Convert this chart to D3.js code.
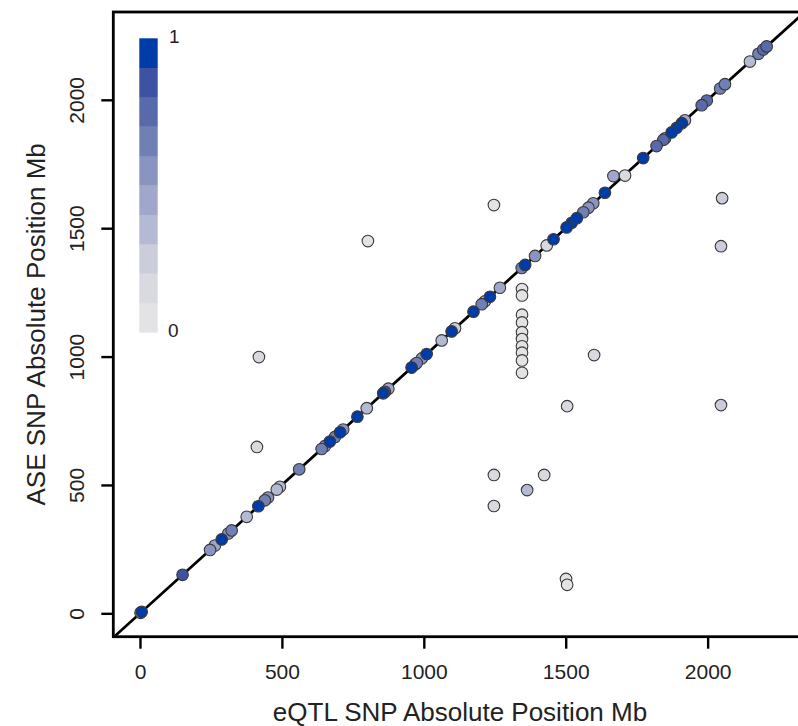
<!DOCTYPE html>
<html>
<head>
<meta charset="utf-8">
<script src="https://cdn.jsdelivr.net/npm/d3@7"></script>
<style>
  html, body { margin: 0; padding: 0; background: #fff; }
  svg { display: block; }
  text { font-family: "Liberation Sans", Arial, Helvetica, sans-serif; fill: #222; }
</style>
</head>
<body>
<svg id="chart" width="798" height="726"></svg>
<script>
// eQTL SNP position vs ASE SNP position (Mb), coloured by proportion shared
const eqtlMb = [
  2, 6, 150, 247, 264, 288, 311, 323, 376, 417, 440, 451, 482, 493, 561,
  640, 652, 669, 687, 705, 716, 766, 799, 857, 863, 875, 957, 970, 975, 993,
  1010, 1063, 1098, 1110, 1175, 1204, 1215, 1233, 1268, 1345, 1357, 1392, 1433,
  1457, 1503, 1521, 1539, 1562, 1580, 1597, 1638, 1709, 1773, 1820, 1844, 1850,
  1873, 1891, 1909, 1920, 1979, 1997, 2044, 2061, 2149, 2179, 2196, 2208,
  // off-diagonal pairs
  1247, 803, 2051, 2047, 2047, 1505, 1600, 419, 412, 1247, 1247, 1364, 1424,
  1501, 1505, 1668,
  1346, 1346, 1346, 1346, 1346, 1346, 1346, 1346, 1346, 1346
];
const aseMb = [
  2, 6, 150, 247, 264, 288, 311, 323, 376, 417, 440, 451, 482, 493, 561,
  640, 652, 669, 687, 705, 716, 766, 799, 857, 863, 875, 957, 970, 975, 993,
  1010, 1063, 1098, 1110, 1175, 1204, 1215, 1233, 1268, 1345, 1357, 1392, 1433,
  1457, 1503, 1521, 1539, 1562, 1580, 1597, 1638, 1705, 1773, 1820, 1844, 1850,
  1873, 1891, 1909, 1920, 1979, 1997, 2044, 2061, 2149, 2179, 2196, 2208,
  1590, 1450, 1617, 1430, 811, 807, 1006, 998, 648, 539, 418, 480, 539,
  134, 111, 1703,
  1263, 1238, 1163, 1133, 1095, 1068, 1040, 1015, 985, 937
];
const shared = [
  0.5, 1.0, 0.8, 0.5, 0.4, 1.0, 0.5, 0.6, 0.35, 1.0, 0.6, 0.55, 0.35, 0.3, 0.6,
  0.6, 0.5, 1.0, 0.6, 1.0, 0.5, 1.0, 0.35, 1.0, 0.85, 0.4, 1.0, 0.5, 0.6, 0.55,
  1.0, 0.35, 1.0, 0.2, 1.0, 0.6, 0.3, 1.0, 0.45, 0.6, 1.0, 0.5, 0.15,
  1.0, 1.0, 0.9, 1.0, 0.6, 0.55, 0.5, 1.0, 0.1, 1.0, 0.75, 0.7, 0.55,
  1.0, 0.95, 0.9, 0.45, 0.75, 0.7, 0.6, 0.6, 0.35, 0.65, 0.7, 0.7,
  0.05, 0.05, 0.25, 0.2, 0.2, 0.1, 0.1, 0.1, 0.15, 0.1, 0.15, 0.3, 0.1,
  0.05, 0.05, 0.45,
  0.05, 0.05, 0.05, 0.05, 0.05, 0.05, 0.05, 0.05, 0.05, 0.05
];

// colour key, from 0 (bottom) to 1 (top)
const keyColors = [
  "#e3e3e5", "#d9dae0", "#cbcdda", "#b5bad4", "#a0a7ca",
  "#8a94c0", "#7080b4", "#586aaa", "#3e52a2", "#003ca8"
];
const keyLabels = ["0", "1"];
const tickValues = [0, 500, 1000, 1500, 2000];
const xTitle = "eQTL SNP Absolute Position Mb";
const yTitle = "ASE SNP Absolute Position Mb";

const svg = d3.select("#chart");
const box = { left: 113.3, right: 806.7, top: 12, bottom: 636.7 };

const x = d3.scaleLinear().domain([-94, 2349]).range([box.left, box.right]);
const y = d3.scaleLinear().domain([-91, 2342]).range([box.bottom, box.top]);
const color = d3.scaleQuantize().domain([0, 1]).range(keyColors);

svg.append("clipPath").attr("id", "plotclip")
  .append("rect")
  .attr("x", box.left).attr("y", box.top)
  .attr("width", box.right - box.left).attr("height", box.bottom - box.top);

// identity line
svg.append("line")
  .attr("clip-path", "url(#plotclip)")
  .attr("x1", x(-200)).attr("y1", y(-200))
  .attr("x2", x(2500)).attr("y2", y(2500))
  .attr("stroke", "#000").attr("stroke-width", 2.7);

// points, lighter first so stronger sharing sits on top
const pts = eqtlMb.map((e, i) => ({ e, a: aseMb[i], s: shared[i] }))
  .sort((p, q) => p.s - q.s);

svg.append("g").attr("clip-path", "url(#plotclip)")
  .selectAll("circle").data(pts).join("circle")
  .attr("cx", d => x(d.e)).attr("cy", d => y(d.a)).attr("r", 5.8)
  .attr("fill", d => color(d.s))
  .attr("stroke", "#3a3a3a").attr("stroke-width", 1.1);

// plot frame
svg.append("rect")
  .attr("x", box.left).attr("y", box.top)
  .attr("width", box.right - box.left).attr("height", box.bottom - box.top)
  .attr("fill", "none").attr("stroke", "#000").attr("stroke-width", 2.8);

// x axis
const xAxis = svg.append("g")
  .attr("transform", `translate(0,${box.bottom})`)
  .call(d3.axisBottom(x).tickValues(tickValues).tickSize(12).tickPadding(15).tickFormat(d3.format("d")));
xAxis.select(".domain").remove();
xAxis.selectAll(".tick line").attr("stroke", "#000").attr("stroke-width", 2.4);
xAxis.selectAll(".tick text").attr("font-size", 21).attr("fill", "#222")
  .style("font-family", '"Liberation Sans", Arial, sans-serif');

// y axis, labels parallel to the axis
const yAxis = svg.append("g")
  .attr("transform", `translate(${box.left},0)`)
  .call(d3.axisLeft(y).tickValues(tickValues).tickSize(12).tickFormat(d3.format("d")));
yAxis.select(".domain").remove();
yAxis.selectAll(".tick line").attr("stroke", "#000").attr("stroke-width", 2.4);
yAxis.selectAll(".tick text")
  .attr("font-size", 21).attr("fill", "#222")
  .style("font-family", '"Liberation Sans", Arial, sans-serif')
  .attr("text-anchor", "middle")
  .attr("x", null).attr("dy", null)
  .attr("transform", "translate(-29,0) rotate(-90)");

// axis titles
svg.append("text")
  .attr("x", (box.left + box.right) / 2).attr("y", 721)
  .attr("text-anchor", "middle").attr("font-size", 26)
  .text(xTitle);
svg.append("text")
  .attr("transform", `translate(45,${(box.top + box.bottom) / 2}) rotate(-90)`)
  .attr("text-anchor", "middle").attr("font-size", 26)
  .text(yTitle);

// colour key
const keyTop = 38.3, keyBottom = 332.3, keyX = 139.3, keyW = 18.4;
const segH = (keyBottom - keyTop) / keyColors.length;
svg.append("g").selectAll("rect").data(keyColors).join("rect")
  .attr("x", keyX).attr("width", keyW)
  .attr("y", (c, i) => keyBottom - (i + 1) * segH).attr("height", segH + 0.3)
  .attr("fill", c => c);
svg.append("text").attr("x", 169).attr("y", 43).attr("font-size", 19).text(keyLabels[1]);
svg.append("text").attr("x", 168).attr("y", 337).attr("font-size", 19).text(keyLabels[0]);
</script>
</body>
</html>
